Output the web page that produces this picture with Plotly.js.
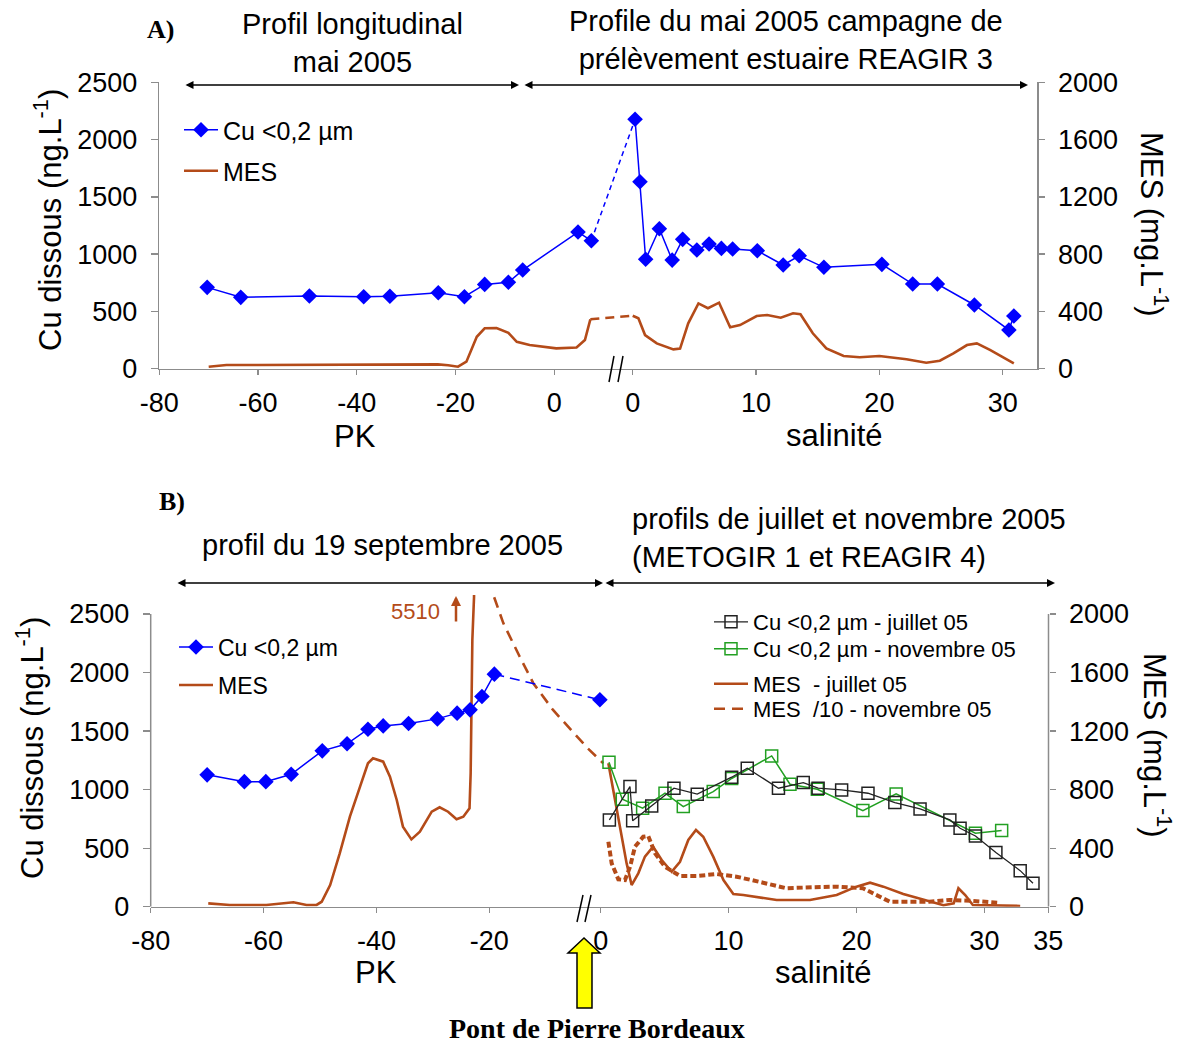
<!DOCTYPE html>
<html>
<head>
<meta charset="utf-8">
<script src="https://cdn.plot.ly/plotly-3.0.1.min.js"></script>
<style>html,body{margin:0;padding:0;background:#fff;}</style>
</head>
<body>
<div id="chart" style="width:1177px;height:1046px;"></div>
<script>
// ---------------- DATA ----------------
// Panel A : mai 2005
const cuA_pk      = [-70.3, -63.5, -49.6, -38.6, -33.3, -23.5, -18.2, -14.1, -9.3, -6.4, 4.8, 7.5];
const cuA_pk_val  = [710, 623, 634, 628, 632, 663, 628, 736, 754, 861, 1193, 1117];
const cuA_sal     = [0.19, 0.59, 1.05, 2.16, 3.2, 4.05, 5.2, 6.19, 7.19, 8.1, 10.1, 12.2, 13.5, 15.5, 20.2, 22.7, 24.7, 27.7, 30.5, 30.9];
const cuA_sal_val = [2177, 1632, 955, 1222, 948, 1129, 1036, 1088, 1050, 1045, 1030, 905, 986, 885, 911, 739, 739, 556, 338, 460];

const mesA_pk      = [-70, -66.4, -60, -50, -40, -30, -23.6, -21.5, -19.5, -17.8, -15.7, -14.1, -11.7, -9.3, -7.6, -5, 0.4, 4.5, 6.2, 7.3];
const mesA_pk_val  = [14, 26, 26, 26, 26, 26, 30, 24, 14, 49, 223, 282, 284, 251, 188, 165, 142, 148, 200, 345];
const mesA_sal     = [0.0, 0.46, 1.0, 1.95, 3.3, 3.84, 4.5, 5.33, 6.1, 7.0, 7.9, 8.7, 10.05, 10.9, 12.0, 13.0, 13.6, 14.6, 15.7, 17.1, 18.4, 20.0, 22.2, 23.8, 24.9, 26.0, 27.1, 27.9, 29.0, 30.1, 30.9];
const mesA_sal_val = [370, 352, 235, 177, 135, 140, 317, 456, 422, 461, 289, 305, 368, 375, 356, 387, 380, 247, 142, 89, 80, 89, 66, 42, 56, 107, 165, 177, 130, 80, 38];

// Panel B : septembre 2005 (PK)
const cuB_pk       = [-70.0, -63.4, -59.6, -55.1, -49.6, -45.2, -41.5, -38.8, -34.3, -29.2, -25.7, -23.4, -21.3, -19.1];
const cuB_pk_val   = [1126, 1068, 1068, 1131, 1331, 1391, 1516, 1544, 1564, 1604, 1653, 1681, 1795, 1986];
const cuB_pont     = [-0.4];
const cuB_pont_val = [1767];

const mesB_pk     = [-69.8, -66, -59.5, -54.7, -52.4, -50.6, -49.7, -48.2, -46.5, -44.7, -42.9, -41.5, -40.6, -38.8, -37.6, -36.4, -35.3, -33.8, -32.3, -30.2, -28.8, -27.3, -25.8, -24.6, -23.5, -23.3, -23.0, -22.7, -22.5];
const mesB_pk_val = [23, 12, 12, 30, 12, 12, 34, 148, 365, 615, 820, 980, 1014, 991, 888, 729, 547, 460, 512, 649, 679, 649, 597, 615, 672, 912, 1822, 2118, 5510];
const mesB_peak_label = "5510";

// Panel B : juillet / novembre 2005 (salinité)
const cuJul_sal = [0.68, 2.29, 2.5, 3.99, 5.73, 7.55, 10.24, 11.46, 13.9, 15.84, 17.0, 18.84, 20.9, 23.0, 24.97, 27.3, 28.1, 29.3, 30.9, 32.8, 33.8];
const cuJul_val = [741, 1026, 735, 861, 1012, 961, 1106, 1183, 1012, 1060, 1012, 997, 969, 889, 835, 741, 670, 604, 462, 308, 200];
const cuNov_sal = [0.65, 1.69, 3.28, 5.03, 6.46, 8.8, 10.24, 13.37, 14.8, 16.94, 20.5, 23.1, 29.3, 31.35];
const cuNov_val = [1234, 918, 841, 969, 855, 983, 1095, 1288, 1046, 1003, 821, 963, 627, 650];

const mesJul_sal = [0.6, 0.99, 1.5, 2.03, 2.42, 2.94, 3.46, 4.1, 4.77, 5.55, 6.2, 6.85, 7.45, 8.02, 8.8, 9.6, 10.37, 11.15, 13.76, 16.36, 18.45, 20.0, 21.06, 22.1, 23.66, 25.2, 26.8, 27.6, 27.97, 28.5, 29.1, 32.8];
const mesJul_val = [980, 797, 569, 296, 148, 228, 342, 410, 319, 239, 307, 456, 524, 478, 342, 182, 87, 80, 46, 46, 80, 137, 164, 137, 87, 51, 10, 23, 126, 80, 12, 5];

// MES /10 novembre : upstream (PK) part and estuary (salinity) part
const mesNovUp_pk      = [-20.2, -17.5, -14.6, -12.2, -8.7, -5.7, -2.5];
const mesNovUp_pk_val  = [2230, 1936, 1708, 1527, 1344, 1215, 1080];
const mesNovUp_sal     = [0.2];
const mesNovUp_sal_val = [980];
const mesNov_sal = [0.6, 0.86, 1.38, 1.9, 2.3, 2.68, 3.33, 3.72, 4.25, 5.03, 6.2, 7.5, 9.07, 10.63, 12.7, 14.5, 16.6, 18.45, 20.5, 21.6, 22.6, 24.2, 25.7, 27.3, 28.9, 31.0];
const mesNov_val = [444, 296, 187, 182, 273, 410, 478, 483, 365, 273, 210, 210, 223, 205, 164, 126, 133, 137, 126, 80, 34, 34, 34, 46, 41, 27];

// Tick labels
const pkTicksA  = [-80, -60, -40, -20, 0];
const salTicksA = [0, 10, 20, 30];
const pkTicksB  = [-80, -60, -40, -20];
const salTicksB = [0, 10, 20, 30, 35];
const cuTicks   = [0, 500, 1000, 1500, 2000, 2500];
const mesTicks  = [0, 400, 800, 1200, 1600, 2000];

// ---------------- LAYOUT HELPERS ----------------
const W = 1177, H = 1046;
const px = x => x / W;
const py = y => 1 - y / H;
const FONT = 'Liberation Sans, Arial, sans-serif';
const SERIF = 'Liberation Serif, Times New Roman, serif';
const BLUE = '#0000ff', BROWN = '#b44b19', GREEN = '#22a022', GREY = '#8c8c8c';

// composite x scale: PK units on the left, salinity stretched on the right
const A_S0 = 15.88, A_K = 2.498;
const B_S0 = -0.26, B_K = 2.2666;
const uA = s => A_S0 + A_K * s;
const uB = s => B_S0 + B_K * s;

const last = a => a[a.length - 1];

const traces = [
  // ---- Panel A ----
  {x: mesA_pk, y: mesA_pk_val, xaxis: 'x', yaxis: 'y', mode: 'lines', name: 'MES',
   line: {color: BROWN, width: 2.6}, legend: 'legend2'},
  {x: [last(mesA_pk), uA(mesA_sal[0])], y: [last(mesA_pk_val), mesA_sal_val[0]], xaxis: 'x', yaxis: 'y',
   mode: 'lines', line: {color: BROWN, width: 2.6, dash: '9px,6px'}, showlegend: false},
  {x: mesA_sal.map(uA), y: mesA_sal_val, xaxis: 'x', yaxis: 'y', mode: 'lines',
   line: {color: BROWN, width: 2.6}, showlegend: false},
  {x: cuA_pk, y: cuA_pk_val, xaxis: 'x', yaxis: 'y2', mode: 'lines+markers', name: 'Cu <0,2 µm',
   line: {color: BLUE, width: 1.5}, marker: {symbol: 'diamond', size: 12, color: BLUE}, legend: 'legend'},
  {x: [last(cuA_pk), uA(cuA_sal[0])], y: [last(cuA_pk_val), cuA_sal_val[0]], xaxis: 'x', yaxis: 'y2',
   mode: 'lines', line: {color: BLUE, width: 1.5, dash: '5px,4px'}, showlegend: false},
  {x: cuA_sal.map(uA), y: cuA_sal_val, xaxis: 'x', yaxis: 'y2', mode: 'lines+markers',
   line: {color: BLUE, width: 1.5}, marker: {symbol: 'diamond', size: 12, color: BLUE}, showlegend: false},

  // ---- Panel B ----
  {x: mesB_pk, y: mesB_pk_val, xaxis: 'x2', yaxis: 'y3', mode: 'lines', name: 'MES',
   line: {color: BROWN, width: 2.6}, legend: 'legend4'},
  {x: mesNovUp_pk.concat(mesNovUp_sal.map(uB)), y: mesNovUp_pk_val.concat(mesNovUp_sal_val),
   xaxis: 'x2', yaxis: 'y3', mode: 'lines', name: 'MES  /10 - novembre 05',
   line: {color: BROWN, width: 2.6, dash: '11px,7px'}, legend: 'legend8'},
  {x: mesNov_sal.map(uB), y: mesNov_val, xaxis: 'x2', yaxis: 'y3', mode: 'lines',
   line: {color: BROWN, width: 4, dash: '6px,3px'}, showlegend: false},
  {x: mesJul_sal.map(uB), y: mesJul_val, xaxis: 'x2', yaxis: 'y3', mode: 'lines', name: 'MES  - juillet 05',
   line: {color: BROWN, width: 2.6}, legend: 'legend7'},

  {x: cuB_pk, y: cuB_pk_val, xaxis: 'x2', yaxis: 'y4', mode: 'lines+markers', name: 'Cu <0,2 µm',
   line: {color: BLUE, width: 1.5}, marker: {symbol: 'diamond', size: 12, color: BLUE}, legend: 'legend3'},
  {x: [last(cuB_pk), cuB_pont[0]], y: [last(cuB_pk_val), cuB_pont_val[0]], xaxis: 'x2', yaxis: 'y4',
   mode: 'lines', line: {color: BLUE, width: 1.5, dash: '10px,6px'}, showlegend: false},
  {x: cuB_pont, y: cuB_pont_val, xaxis: 'x2', yaxis: 'y4', mode: 'markers',
   marker: {symbol: 'diamond', size: 12, color: BLUE}, showlegend: false},
  {x: cuNov_sal.map(uB), y: cuNov_val, xaxis: 'x2', yaxis: 'y4', mode: 'lines+markers',
   name: 'Cu <0,2 µm - novembre 05', line: {color: GREEN, width: 1.5},
   marker: {symbol: 'square-open', size: 12, color: GREEN, line: {width: 1.5}}, legend: 'legend6'},
  {x: cuJul_sal.map(uB), y: cuJul_val, xaxis: 'x2', yaxis: 'y4', mode: 'lines+markers',
   name: 'Cu <0,2 µm - juillet 05', line: {color: '#222', width: 1.3},
   marker: {symbol: 'square-open', size: 12, color: '#222', line: {width: 1.5}}, legend: 'legend5'}
];

const tickFont = {family: FONT, size: 27, color: '#000'};
const axBase = {showgrid: false, zeroline: false, ticks: 'outside', tickcolor: GREY, tickwidth: 1.3,
  linecolor: GREY, linewidth: 1.5, tickfont: tickFont, fixedrange: true};

function mkLegend(xp, yp, size) {
  return {x: px(xp), y: py(yp), xanchor: 'left', yanchor: 'middle', bgcolor: 'rgba(0,0,0,0)',
    borderwidth: 0, itemwidth: 34, font: {family: FONT, size: size, color: '#000'}};
}

function ann(text, x, y, size, opts) {
  return Object.assign({text: text, x: px(x), y: py(y), xref: 'paper', yref: 'paper', showarrow: false,
    xanchor: 'center', yanchor: 'middle', font: {family: FONT, size: size, color: '#000'}}, opts || {});
}
function dbl(xHead, xTail, y) {
  return {text: '', x: px(xHead), y: py(y), xref: 'paper', yref: 'paper', showarrow: true,
    ax: xTail - xHead, ay: 0, arrowhead: 2, startarrowhead: 2, arrowside: 'end+start',
    arrowsize: 1, startarrowsize: 1, arrowwidth: 1.6, arrowcolor: '#000', standoff: 0, startstandoff: 0};
}
function seg(x0, y0, x1, y1, color, width) {
  return {type: 'line', xref: 'paper', yref: 'paper', x0: px(x0), y0: py(y0), x1: px(x1), y1: py(y1),
    line: {color: color, width: width}};
}
const yellowPts = [[584, 938], [568, 953], [577, 953], [577, 1008], [592, 1008], [592, 953], [600, 953]];
const yellowPath = 'M' + yellowPts.map(p => px(p[0]).toFixed(5) + ',' + py(p[1]).toFixed(5)).join(' L') + ' Z';

const layout = {
  width: W, height: H, margin: {l: 0, r: 0, t: 0, b: 0},
  paper_bgcolor: '#fff', plot_bgcolor: 'rgba(0,0,0,0)', showlegend: true,
  xaxis: Object.assign({}, axBase, {domain: [px(159.3), px(1037)], range: [-80, 97.76], anchor: 'y',
    tickvals: pkTicksA.concat(salTicksA.map(uA)), ticktext: pkTicksA.concat(salTicksA).map(String),
    showline: true, ticklen: 5, ticklabelstandoff: 4}),
  yaxis: Object.assign({}, axBase, {domain: [py(368.7), py(82.3)], range: [0, 2000], side: 'right', anchor: 'x',
    tickvals: mesTicks, ticktext: mesTicks.map(String), showline: true, ticklen: 6, ticklabelstandoff: 8}),
  yaxis2: Object.assign({}, axBase, {overlaying: 'y', side: 'left', range: [0, 2500], anchor: 'x',
    tickvals: cuTicks, ticktext: cuTicks.map(String), showline: true, ticklen: 7, ticklabelstandoff: 8}),
  xaxis2: Object.assign({}, axBase, {domain: [px(150.7), px(1048.5)], range: [-80, 79.1], anchor: 'y3',
    tickvals: pkTicksB.concat(salTicksB.map(uB)), ticktext: pkTicksB.concat(salTicksB).map(String),
    showline: true, ticklen: 5, ticklabelstandoff: 4}),
  yaxis3: Object.assign({}, axBase, {domain: [py(906.7), py(595)], range: [0, 2129.6], side: 'right', anchor: 'x2',
    tickvals: mesTicks, ticktext: mesTicks.map(String), showline: false, ticklen: 6, ticklabelstandoff: 8}),
  yaxis4: Object.assign({}, axBase, {overlaying: 'y3', side: 'left', range: [0, 2662], anchor: 'x2',
    tickvals: cuTicks, ticktext: cuTicks.map(String), showline: false, ticklen: 7, ticklabelstandoff: 8}),

  legend:  mkLegend(179, 130, 25),
  legend2: mkLegend(179, 171, 25),
  legend3: mkLegend(174, 647, 23),
  legend4: mkLegend(174, 685, 23),
  legend5: mkLegend(709, 622, 22),
  legend6: mkLegend(709, 649, 22),
  legend7: mkLegend(709, 684, 22),
  legend8: mkLegend(709, 709, 22),

  shapes: [
    {type: 'line', xref: 'paper', yref: 'y4', x0: px(150.7), x1: px(150.7), y0: 0, y1: 2500, line: {color: GREY, width: 1.5}},
    {type: 'line', xref: 'paper', yref: 'y3', x0: px(1048.5), x1: px(1048.5), y0: 0, y1: 2000, line: {color: GREY, width: 1.5}},
    seg(609, 382, 614, 356, '#000', 1.5), seg(618, 382, 623, 356, '#000', 1.5),
    seg(577, 922, 583, 895, '#000', 1.5), seg(585, 922, 591, 895, '#000', 1.5),
    {type: 'path', xref: 'paper', yref: 'paper', path: yellowPath, fillcolor: '#ffff00', line: {color: '#000', width: 1.5}}
  ],

  annotations: [
    ann('A)', 160, 30, 26, {font: {family: SERIF, size: 26, color: '#000', weight: 'bold'}}),
    ann('Profil longitudinal<br>mai 2005', 352, 43, 29),
    ann('Profile du mai 2005 campagne de<br>prélèvement estuaire REAGIR 3', 786, 40, 29),
    dbl(519, 184, 85), dbl(1028, 523, 85),
    ann('Cu dissous (ng.L<sup>-1</sup>)', 48, 220, 31, {textangle: -90}),
    ann('MES (mg.L<sup>-1</sup>)', 1154, 224, 31, {textangle: 90}),
    ann('PK', 355, 436, 31),
    ann('salinité', 834, 435, 31),

    ann('B)', 172, 502, 26, {font: {family: SERIF, size: 26, color: '#000', weight: 'bold'}}),
    ann('profil du 19 septembre 2005', 383, 545, 29),
    ann('profils de juillet et novembre 2005<br>(METOGIR 1 et REAGIR 4)', 630, 538, 29, {xanchor: 'left', align: 'left'}),
    dbl(603, 176, 583), dbl(1055, 604, 583),
    ann(mesB_peak_label, 415, 611, 22, {font: {family: FONT, size: 22, color: BROWN}}),
    {text: '', x: px(456), y: py(596), xref: 'paper', yref: 'paper', showarrow: true, ax: 0, ay: 27,
     arrowhead: 2, arrowsize: 0.8, arrowwidth: 2.5, arrowcolor: BROWN, standoff: 0},
    ann('Cu dissous (ng.L<sup>-1</sup>)', 30, 748, 31, {textangle: -90}),
    ann('MES (mg.L<sup>-1</sup>)', 1157, 745, 31, {textangle: 90}),
    ann('PK', 376, 972, 31),
    ann('salinité', 823, 972, 31),
    ann('Pont de Pierre Bordeaux', 597, 1045, 28, {yanchor: 'bottom', borderpad: 0,
      font: {family: SERIF, size: 28, color: '#000', weight: 'bold'}})
  ]
};

Plotly.newPlot('chart', traces, layout, {displayModeBar: false, staticPlot: true});
</script>
</body>
</html>
